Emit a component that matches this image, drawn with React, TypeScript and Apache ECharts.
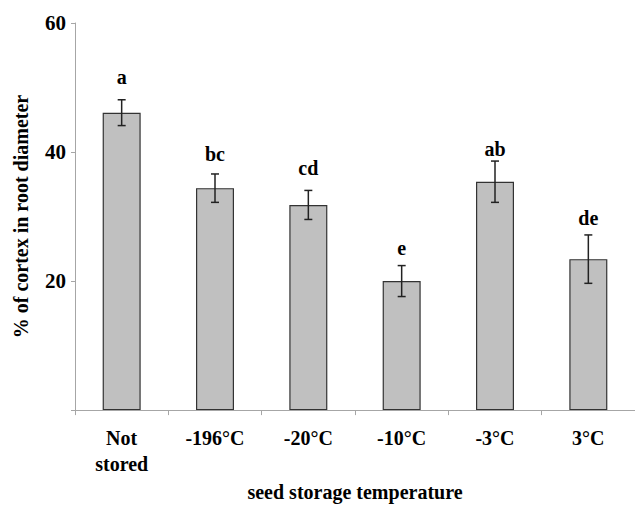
import React, { useEffect, useRef } from "react";
import * as echarts from "echarts";

const categories = ["Not\nstored", "-196°C", "-20°C", "-10°C", "-3°C", "3°C"];
const means = [46.1, 34.4, 31.8, 20.0, 35.4, 23.4];
const errors = [2.0, 2.2, 2.25, 2.4, 3.2, 3.75];
const letters = ["a", "bc", "cd", "e", "ab", "de"];
const letterY = [51.7, 39.7, 37.6, 25.1, 40.5, 29.8];
const yTicks = { min: 0, max: 60, interval: 20 };

const FONT = '"Liberation Serif", "Times New Roman", serif';

export default function App() {
  const ref = useRef<HTMLDivElement>(null);
  useEffect(() => {
    if (!ref.current) return;
    const chart = echarts.init(ref.current, null, { renderer: "svg" });
    chart.setOption({
      animation: false,
      backgroundColor: "#ffffff",
      grid: { left: 75, right: -10, top: 23, bottom: 90, containLabel: false },
      xAxis: {
        type: "category",
        data: categories,
        name: "seed storage temperature",
        nameLocation: "middle",
        nameGap: 69,
        nameTextStyle: { fontFamily: FONT, fontWeight: "bold", fontSize: 20, color: "#000" },
        axisLine: { show: true, lineStyle: { color: "#a6a6a6", width: 1 } },
        axisTick: { show: true, length: 5, lineStyle: { color: "#a6a6a6" } },
        axisLabel: {
          fontFamily: FONT,
          fontWeight: "bold",
          fontSize: 20,
          color: "#000",
          margin: 15,
          lineHeight: 26,
          interval: 0,
        },
        splitLine: { show: false },
      },
      yAxis: {
        type: "value",
        min: yTicks.min,
        max: yTicks.max,
        interval: yTicks.interval,
        name: "% of cortex in root diameter",
        nameLocation: "middle",
        nameGap: 44,
        nameRotate: 90,
        nameTextStyle: { fontFamily: FONT, fontWeight: "bold", fontSize: 20, color: "#000" },
        axisLine: { show: true, lineStyle: { color: "#a6a6a6", width: 1 } },
        axisTick: { show: true, length: 4, lineStyle: { color: "#a6a6a6" } },
        axisLabel: {
          fontFamily: FONT,
          fontWeight: "bold",
          fontSize: 21,
          color: "#000",
          margin: 9,
          formatter: (v: number) => (v === 0 ? "" : String(v)),
        },
        splitLine: { show: false },
      },
      series: [
        {
          type: "bar",
          data: means,
          barWidth: 38,
          itemStyle: { color: "#c0c0c0", borderColor: "#333333", borderWidth: 1.2 },
          z: 2,
        },
        {
          type: "custom",
          data: means.map((m, i) => [i, m - errors[i], m + errors[i]]),
          z: 3,
          renderItem: (params: any, api: any) => {
            const x = api.value(0);
            const lo = api.coord([x, api.value(1)]);
            const hi = api.coord([x, api.value(2)]);
            const hw = 4;
            const style = { stroke: "#222222", lineWidth: 1.5 };
            return {
              type: "group",
              children: [
                { type: "line", shape: { x1: hi[0], y1: hi[1], x2: lo[0], y2: lo[1] }, style },
                { type: "line", shape: { x1: hi[0] - hw, y1: hi[1], x2: hi[0] + hw, y2: hi[1] }, style },
                { type: "line", shape: { x1: lo[0] - hw, y1: lo[1], x2: lo[0] + hw, y2: lo[1] }, style },
              ],
            };
          },
        },
        {
          type: "custom",
          data: letterY.map((v, i) => [i, v]),
          z: 4,
          renderItem: (params: any, api: any) => {
            const p = api.coord([api.value(0), api.value(1)]);
            return {
              type: "text",
              x: p[0],
              y: p[1],
              style: {
                text: letters[params.dataIndex],
                fontFamily: FONT,
                fontWeight: "bold",
                fontSize: 20,
                fill: "#000",
                align: "center",
                verticalAlign: "middle",
              },
            };
          },
        },
      ],
    });
    return () => chart.dispose();
  }, []);
  return <div ref={ref} style={{ width: 635, height: 507, position: "absolute", left: 0, top: 0 }} />;
}
